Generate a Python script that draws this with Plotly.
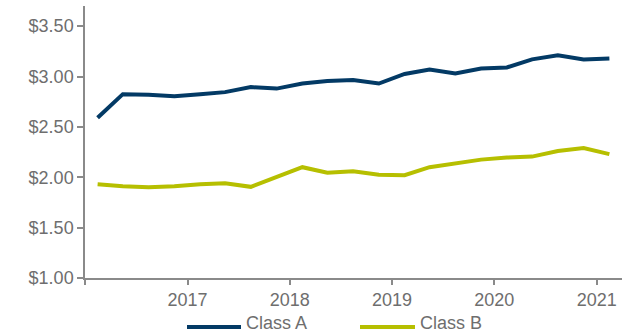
import plotly.graph_objects as go

dates = [
    "2016-02-15", "2016-05-15", "2016-08-15", "2016-11-15",
    "2017-02-15", "2017-05-15", "2017-08-15", "2017-11-15",
    "2018-02-15", "2018-05-15", "2018-08-15", "2018-11-15",
    "2019-02-15", "2019-05-15", "2019-08-15", "2019-11-15",
    "2020-02-15", "2020-05-15", "2020-08-15", "2020-11-15",
    "2021-02-15",
]
class_a = [2.59, 2.825, 2.82, 2.805, 2.825, 2.845, 2.895, 2.88, 2.93, 2.955,
           2.965, 2.93, 3.025, 3.07, 3.03, 3.08, 3.09, 3.17, 3.21, 3.17, 3.18]
class_b = [1.93, 1.91, 1.90, 1.91, 1.93, 1.94, 1.905, 2.005, 2.10, 2.045,
           2.06, 2.025, 2.02, 2.10, 2.135, 2.175, 2.195, 2.205, 2.26, 2.29, 2.23]

year_ticks = ["2016-01-01", "2017-01-01", "2018-01-01", "2019-01-01", "2020-01-01", "2021-01-01"]
year_labels = ["", "2017", "2018", "2019", "2020", "2021"]
y_ticks = [1.0, 1.5, 2.0, 2.5, 3.0, 3.5]

COL_A = "#033a65"
COL_B = "#b6bf00"
GRAY_TXT = "#6e6e6e"
AXIS = "#8a8a8a"
FONT = "Arial, Liberation Sans, sans-serif"

fig = go.Figure()
fig.add_trace(go.Scatter(x=dates, y=class_a, mode="lines", name="Class A",
                         line=dict(color=COL_A, width=4), showlegend=False))
fig.add_trace(go.Scatter(x=dates, y=class_b, mode="lines", name="Class B",
                         line=dict(color=COL_B, width=4), showlegend=False))

W, H = 631, 335
L, R, T, B = 85, 9, 6, 57
pw = W - L - R
ph = H - T - B

def px_x(p):
    return (p - L) / pw

def px_y(p):
    return (H - B - p) / ph

legend_items = [("Class A", COL_A, 187, 241), ("Class B", COL_B, 360, 415)]
ly = px_y(327)
for name, col, x0, x1 in legend_items:
    fig.add_shape(type="line", xref="paper", yref="paper",
                  x0=px_x(x0), x1=px_x(x1), y0=ly, y1=ly,
                  line=dict(color=col, width=4))
    fig.add_annotation(xref="paper", yref="paper", x=px_x(x1 + 3), y=px_y(335),
                       text=name, showarrow=False, xanchor="left", yanchor="bottom",
                       font=dict(family=FONT, size=18, color=GRAY_TXT))

fig.update_layout(
    width=W, height=H,
    margin=dict(l=L, r=R, t=T, b=B),
    paper_bgcolor="white", plot_bgcolor="white",
    font=dict(family=FONT, size=18, color=GRAY_TXT),
    xaxis=dict(type="date", range=["2016-01-01", "2021-04-01"],
               tickvals=year_ticks, ticktext=year_labels,
               showgrid=False, zeroline=False,
               showline=True, linecolor=AXIS, linewidth=1.5,
               ticks="outside", ticklen=5, tickcolor=AXIS, tickwidth=1.5,
               tickfont=dict(family=FONT, size=18, color=GRAY_TXT)),
    yaxis=dict(range=[1.0, 3.7], tickvals=y_ticks, tickformat="$.2f",
               showgrid=False, zeroline=False,
               showline=True, linecolor=AXIS, linewidth=1.5,
               ticks="outside", ticklen=6, tickcolor=AXIS, tickwidth=1.5,
               tickfont=dict(family=FONT, size=18, color=GRAY_TXT)),
)

fig.write_html("out.html")
